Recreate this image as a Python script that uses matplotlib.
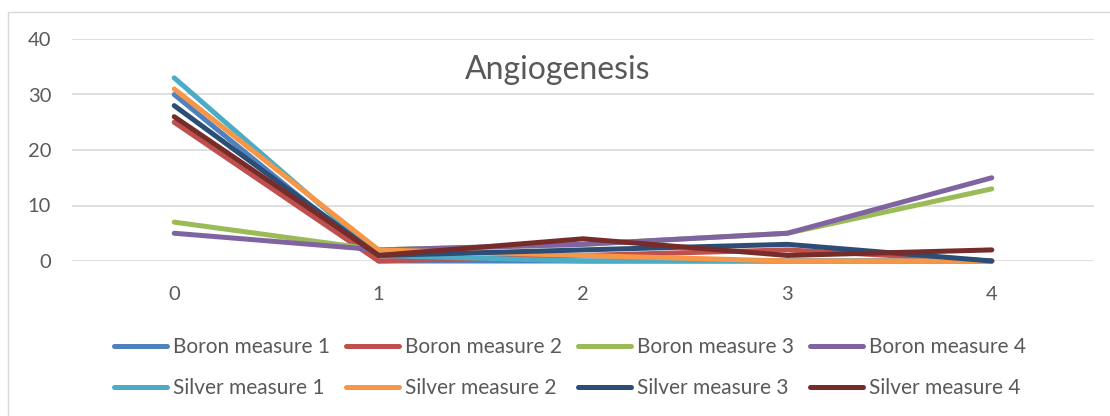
import numpy as np
import matplotlib.pyplot as plt
from matplotlib.patches import Rectangle

plt.rcParams['font.family'] = ['Lato', 'DejaVu Sans']

x_labels = ['0', '1', '2', '3', '4']

boron_1 = [30, 0, 0, 0, 0]
boron_2 = [25, 0, 1, 2, 0]
boron_3 = [7, 2, 3, 5, 13]
boron_4 = [5, 2, 3, 5, 15]
silver_1 = [33, 1, 0, 0, 0]
silver_2 = [31, 2, 1, 0, 0]
silver_3 = [28, 1, 2, 3, 0]
silver_4 = [26, 1, 4, 1, 2]

series = [
    ('Boron measure 1', boron_1, '#4F81BD'),
    ('Boron measure 2', boron_2, '#C0504D'),
    ('Boron measure 3', boron_3, '#9BBB59'),
    ('Boron measure 4', boron_4, '#8064A2'),
    ('Silver measure 1', silver_1, '#4BACC6'),
    ('Silver measure 2', silver_2, '#F79646'),
    ('Silver measure 3', silver_3, '#2C4D75'),
    ('Silver measure 4', silver_4, '#772C2A'),
]

fig = plt.figure(figsize=(11.1, 4.16), dpi=100)
fig.patches.append(Rectangle((8 / 1110, -0.01), 1.1, 1 - 12 / 416 + 0.01,
                             transform=fig.transFigure, fill=False,
                             edgecolor='#D9D9D9', linewidth=1))

ax = fig.add_axes([72 / 1110, 1 - 261 / 416, (1094 - 72) / 1110, (261 - 39) / 416])
xs = np.arange(len(x_labels))
handles = []
for name, vals, col in series:
    h, = ax.plot(xs, vals, color=col, linewidth=3.6, solid_capstyle='round',
                 solid_joinstyle='round', label=name, clip_on=False)
    handles.append(h)

ax.set_xlim(-0.5, 4.5)
ax.set_ylim(0, 40)
ax.set_yticks([0, 10, 20, 30, 40])
ax.set_xticks(xs)
ax.set_xticklabels(x_labels)
ax.yaxis.grid(True, color='#D9D9D9', linewidth=1.2)
ax.set_axisbelow(True)
for s in ax.spines.values():
    s.set_visible(False)
ax.tick_params(length=0, labelsize=14.5, colors='#595959')
ax.tick_params(axis='x', pad=18)
ax.tick_params(axis='y', pad=15)

ax.text(0.4755, 0.86, 'Angiogenesis', transform=ax.transAxes, ha='center',
        va='center', fontsize=23, color='#595959')

# legend rows are filled column by column, so interleave boron and silver
order = [0, 4, 1, 5, 2, 6, 3, 7]
fig.legend([handles[i] for i in order], [series[i][0] for i in order],
           loc='center', bbox_to_anchor=(0.5135, 1 - 367.5 / 416), ncol=4,
           frameon=False, fontsize=15, handlelength=2.55, handletextpad=0.25,
           columnspacing=0.8, labelspacing=1.0, labelcolor='#595959')

fig.savefig('out.png', dpi=100)
